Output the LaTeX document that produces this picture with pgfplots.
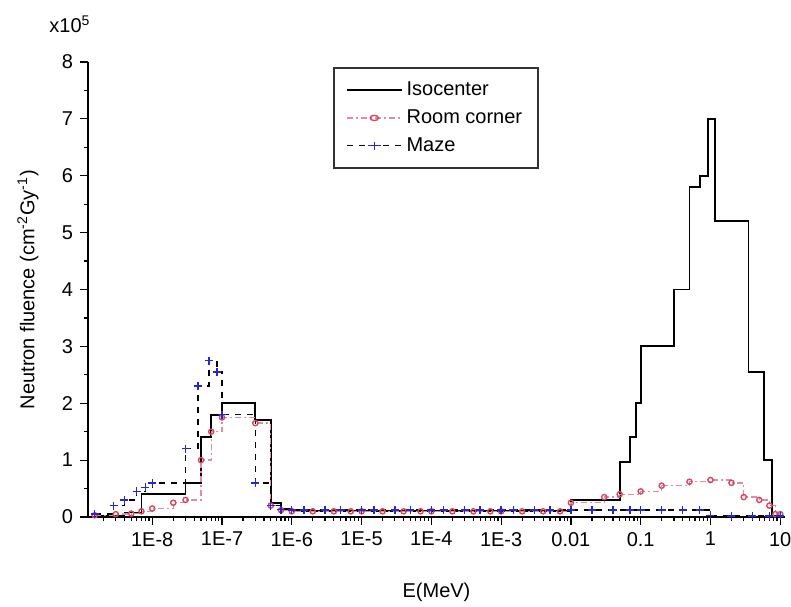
\documentclass[border=0pt]{standalone}
\usepackage{fontspec}
\setmainfont{Liberation Sans}
\usepackage{pgfplots}
\pgfplotsset{compat=1.18}
\definecolor{rcline}{RGB}{225,140,160}
\definecolor{rcmark}{RGB}{215,70,100}
\definecolor{mzmark}{RGB}{40,40,200}

\begin{document}
\begin{tikzpicture}
\begin{axis}[
  scale only axis, width=348.5pt, height=227.5pt,
  xmode=log, xmin=1.2e-9, xmax=11.7,
  ymin=0, ymax=8,
  axis x line*=bottom, axis y line*=left,
  axis line style={line width=0.8pt},
  tick align=outside, major tick length=4pt, minor tick length=2pt,
  tick style={black, line width=0.6pt},
  xtick={1e-8,1e-7,1e-6,1e-5,1e-4,1e-3,0.01,0.1,1,10},
  xticklabels={1E-8,1E-7,1E-6,1E-5,1E-4,1E-3,0.01,0.1,1,10},
  minor xtick={2e-9,3e-9,4e-9,5e-9,6e-9,7e-9,8e-9,9e-9,
    2e-8,3e-8,4e-8,5e-8,6e-8,7e-8,8e-8,9e-8,
    2e-7,3e-7,4e-7,5e-7,6e-7,7e-7,8e-7,9e-7,
    2e-6,3e-6,4e-6,5e-6,6e-6,7e-6,8e-6,9e-6,
    2e-5,3e-5,4e-5,5e-5,6e-5,7e-5,8e-5,9e-5,
    2e-4,3e-4,4e-4,5e-4,6e-4,7e-4,8e-4,9e-4,
    2e-3,3e-3,4e-3,5e-3,6e-3,7e-3,8e-3,9e-3,
    0.02,0.03,0.04,0.05,0.06,0.07,0.08,0.09,
    0.2,0.3,0.4,0.5,0.6,0.7,0.8,0.9,
    2,3,4,5,6,7,8,9},
  ytick={0,1,2,3,4,5,6,7,8},
  minor ytick={0.5,1.5,2.5,3.5,4.5,5.5,6.5,7.5},
  /pgf/number format/assume math mode=true,
  tick label style={font=\fontsize{10}{11}\selectfont},
  xlabel={E(MeV)},
  ylabel={Neutron fluence (cm\textsuperscript{-2}Gy\textsuperscript{-1})},
  label style={font=\fontsize{10}{12}\selectfont},
  xlabel style={at={(axis description cs:0.5,0)}, anchor=center, yshift=-37.5pt},
  ylabel style={at={(axis description cs:0,0.5)}, anchor=center, yshift=30pt},
  legend style={at={(0.352,0.989)}, anchor=north west, draw=black!80,
    line width=0.8pt, font=\fontsize{10}{12}\selectfont,
    inner xsep=6pt, inner ysep=5pt, row sep=1.5pt,
    cells={anchor=west}},
  legend image post style={xscale=1.6},
  clip=false,
]

% Isocenter
\addplot[const plot, black, line width=0.9pt] coordinates {
  (1.5e-9,0.02) (4e-9,0.08) (7e-9,0.4) (3e-8,0.6) (5e-8,1.4) (7e-8,1.8)
  (1e-7,2.0) (3e-7,1.7) (5e-7,0.25) (7e-7,0.15) (1e-6,0.1) (0.01,0.3)
  (0.05,0.97) (0.07,1.4) (0.085,2.0) (0.1,3.0) (0.3,4.0) (0.5,5.8)
  (0.7,6.0) (0.93,7.0) (1.15,5.2) (3.5,2.55) (5.9,1.0) (7.6,0.02) (10,0.02)
};
\addlegendentry{Isocenter}

% Room corner
\addplot[const plot, rcline, dash pattern=on 3pt off 1.5pt on 1pt off 1.5pt, line width=0.7pt,
  mark=o, mark size=1.3pt, mark options={solid, rcmark}] coordinates {
  (1.5e-9,0.03) (3e-9,0.05) (5e-9,0.06) (7e-9,0.1) (1e-8,0.15) (2e-8,0.25)
  (3e-8,0.3) (5e-8,1.0) (7e-8,1.5) (1e-7,1.75) (3e-7,1.65) (5e-7,0.2)
  (7e-7,0.12) (1e-6,0.1) (2e-6,0.1) (4e-6,0.1) (7e-6,0.1) (1e-5,0.1)
  (2e-5,0.1) (4e-5,0.1) (7e-5,0.1) (1e-4,0.1) (2e-4,0.1) (4e-4,0.1)
  (7e-4,0.1) (1e-3,0.1) (2e-3,0.1) (4e-3,0.1) (7e-3,0.1)
  (0.01,0.25) (0.03,0.35) (0.05,0.4) (0.1,0.45) (0.2,0.55) (0.5,0.62)
  (1,0.65) (2,0.6) (3,0.35) (5,0.3) (7,0.2) (8.5,0.05) (10,0.05)
};
\addlegendentry{Room corner}

% Maze
\addplot[const plot, black, dashed, line width=0.7pt,
  mark=+, mark size=2pt, mark options={solid, mzmark}] coordinates {
  (1.5e-9,0.05) (2.8e-9,0.2) (4e-9,0.3) (6e-9,0.45) (8e-9,0.52) (1e-8,0.6)
  (3e-8,1.2) (4.5e-8,2.3) (6.5e-8,2.75) (8.5e-8,2.55) (1e-7,1.8)
  (3e-7,0.6) (5e-7,0.2) (7e-7,0.13) (1e-6,0.12) (1.5e-6,0.12) (3e-6,0.12)
  (5e-6,0.12) (1e-5,0.12) (1.5e-5,0.12) (3e-5,0.12) (5e-5,0.12) (1e-4,0.12)
  (1.5e-4,0.12) (3e-4,0.12) (5e-4,0.12) (1e-3,0.12) (1.5e-3,0.12) (3e-3,0.12)
  (5e-3,0.12) (0.01,0.12) (0.02,0.12) (0.04,0.12) (0.07,0.12) (0.1,0.12)
  (0.2,0.12) (0.4,0.12) (0.7,0.12) (1,0.03) (2,0.02) (4,0.02) (7,0.02) (10,0.02)
};
\addlegendentry{Maze}

\node[font=\fontsize{10}{11}\selectfont] at (rel axis cs:0,1) [xshift=-9pt, yshift=19pt] {x10\textsuperscript{5}};

\coordinate (ll) at (rel axis cs:0,0);
\coordinate (ur) at (rel axis cs:1,1);
\end{axis}
\pgfresetboundingbox
\path ([shift={(-44pt,-45pt)}]ll) rectangle ([shift={(3pt,31pt)}]ur);
\end{tikzpicture}
\end{document}
